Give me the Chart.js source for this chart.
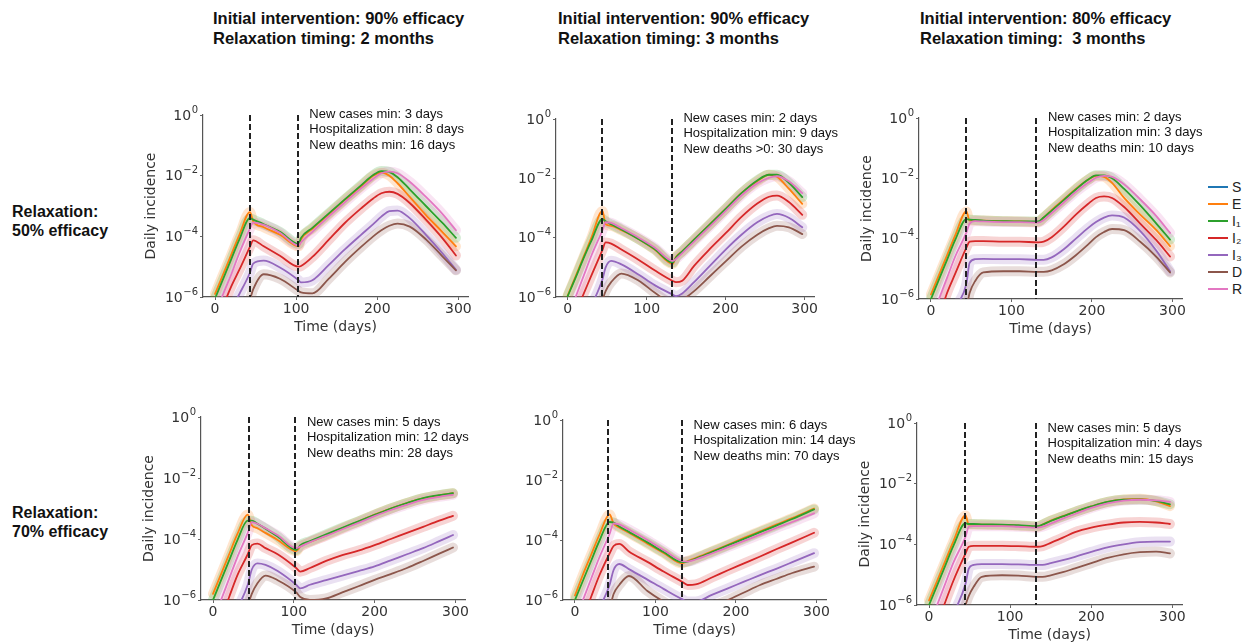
<!DOCTYPE html>
<html>
<head>
<meta charset="utf-8">
<script src="https://cdn.jsdelivr.net/npm/chart.js@4.4.1/dist/chart.umd.min.js"></script>
<style>
  html, body { margin: 0; padding: 0; background: #fff; }
  body { width: 1245px; height: 642px; overflow: hidden; position: relative;
         font-family: "Liberation Sans", Arial, sans-serif; }
  .title { position: absolute; font-weight: bold; font-size: 16.5px; line-height: 20px; white-space: pre; color: #111; }
  .rowlabel { position: absolute; left: 12px; font-weight: bold; font-size: 16px; line-height: 19px; white-space: pre; color: #111; }
  canvas { position: absolute; }
  #legend { position: absolute; left: 1208px; top: 178px; font-size: 14px; color: #222; }
  .leg { height: 17px; display: flex; align-items: center; }
  .leg i { display: inline-block; width: 20px; height: 2px; margin-right: 4px; }
</style>
</head>
<body>
<div class="title" style="left:213px; top:8px">Initial intervention: 90% efficacy
Relaxation timing: 2 months</div>
<div class="title" style="left:558px; top:8px">Initial intervention: 90% efficacy
Relaxation timing: 3 months</div>
<div class="title" style="left:920px; top:8px">Initial intervention: 80% efficacy
Relaxation timing:  3 months</div>
<div class="rowlabel" style="top:202px">Relaxation:
50% efficacy</div>
<div class="rowlabel" style="top:503px">Relaxation:
70% efficacy</div>
<div id="legend"></div>

<script>
// series
const SERIES_KEYS = ["S", "E", "I1", "I2", "I3", "D", "R"];
const SERIES_LABELS = ["S", "E", "I₁", "I₂", "I₃", "D", "R"];
const SERIES_COLORS = ["#1f77b4", "#ff7f0e", "#2ca02c", "#d62728", "#9467bd", "#8c564b", "#e377c2"];

// axes
const X_MIN = -14.85, X_MAX = 311.85;
const X_TICKS = [0, 100, 200, 300];
const Y_TICKS = [1e-6, 1e-4, 1e-2, 1];
const Y_TICK_BASE = "10";
const Y_TICK_EXP = ["−6", "−4", "−2", "0"];

// log10 of daily incidence (S is never visible)
// panel 1: 90% / 2 months, relaxation 50%
const P1_DAYS = [0, 10, 20, 30, 43, 47, 60, 80, 103, 106, 120, 140, 160, 180, 195, 205, 215, 225, 240, 260, 280, 297];
const P1_E  = [-5.9, -5.25, -4.6, -3.95, -3.2, -3.5, -3.7, -3.95, -4.33, -4.1, -3.75, -3.28, -2.8, -2.35, -2.0, -1.9, -2.0, -2.25, -2.7, -3.3, -3.85, -4.33];
const P1_I1 = [-6.05, -5.4, -4.75, -4.1, -3.4, -3.45, -3.6, -3.85, -4.25, -4.05, -3.72, -3.25, -2.78, -2.32, -1.98, -1.85, -1.88, -2.05, -2.45, -3.0, -3.55, -4.05];
const P1_I2 = [-7.0, -6.3, -5.65, -5.1, -4.35, -4.13, -4.33, -4.64, -5.0, -4.98, -4.68, -4.12, -3.56, -3.08, -2.75, -2.58, -2.53, -2.6, -2.9, -3.45, -4.05, -4.63];
const P1_I3 = [-7.6, -7.0, -6.4, -5.9, -5.2, -4.9, -4.8, -5.03, -5.45, -5.52, -5.45, -4.95, -4.43, -3.95, -3.6, -3.35, -3.17, -3.15, -3.4, -3.95, -4.55, -5.1];
const P1_D  = [-9, -8.5, -8, -7.2, -6.1, -5.75, -5.25, -5.4, -5.8, -5.85, -5.88, -5.4, -4.85, -4.35, -4.0, -3.8, -3.65, -3.58, -3.68, -4.1, -4.65, -5.12];
const P1_R  = [-6.6, -5.9, -5.25, -4.55, -3.75, -3.55, -3.62, -3.88, -4.3, -4.2, -3.85, -3.35, -2.88, -2.42, -2.1, -1.92, -1.87, -1.92, -2.2, -2.7, -3.25, -3.8];

// panel 2: 90% / 3 months, relaxation 50%
const P2_DAYS = [0, 10, 20, 30, 44, 48, 55, 68, 90, 110, 133, 137, 145, 160, 180, 200, 220, 240, 255, 265, 280, 297];
const P2_E  = [-5.95, -5.3, -4.65, -4.0, -3.1, -3.55, -3.6, -3.75, -4.05, -4.4, -4.88, -4.65, -4.46, -4.07, -3.55, -3.03, -2.5, -2.1, -1.88, -1.95, -2.35, -2.86];
const P2_I1 = [-5.97, -5.35, -4.7, -4.1, -3.37, -3.45, -3.55, -3.72, -4.05, -4.38, -4.84, -4.67, -4.46, -4.07, -3.55, -3.03, -2.5, -2.07, -1.88, -1.88, -2.15, -2.63];
const P2_I2 = [-7.0, -6.5, -5.9, -5.27, -4.41, -4.16, -4.2, -4.4, -4.75, -5.1, -5.46, -5.5, -5.45, -4.95, -4.38, -3.85, -3.3, -2.85, -2.62, -2.58, -2.8, -3.23];
const P2_I3 = [-8, -7.5, -6.9, -6.3, -5.4, -5.0, -4.78, -4.9, -5.25, -5.6, -5.92, -5.97, -5.88, -5.5, -4.95, -4.4, -3.9, -3.48, -3.27, -3.2, -3.33, -3.65];
const P2_D  = [-9, -8.5, -8, -7.2, -6.1, -5.8, -5.5, -5.21, -5.45, -5.85, -6.2, -6.2, -6.1, -5.8, -5.3, -4.8, -4.3, -3.9, -3.68, -3.6, -3.65, -3.88];
const P2_R  = [-6.7, -6.0, -5.3, -4.6, -3.75, -3.48, -3.5, -3.68, -4.0, -4.33, -4.78, -4.72, -4.52, -4.13, -3.62, -3.1, -2.58, -2.17, -1.98, -1.93, -2.1, -2.5];

// panel 3: 80% / 3 months, relaxation 50%
const P3_DAYS = [0, 10, 20, 30, 44, 48, 55, 65, 90, 110, 133, 140, 150, 165, 180, 195, 205, 215, 225, 240, 260, 280, 297];
const P3_E  = [-5.85, -5.2, -4.55, -3.9, -3.1, -3.4, -3.4, -3.4, -3.42, -3.43, -3.45, -3.3, -3.05, -2.7, -2.35, -2.05, -1.92, -1.95, -2.15, -2.65, -3.2, -3.72, -4.25];
const P3_I1 = [-6.0, -5.35, -4.7, -4.05, -3.35, -3.37, -3.38, -3.4, -3.42, -3.43, -3.43, -3.3, -3.07, -2.72, -2.37, -2.05, -1.9, -1.9, -2.0, -2.35, -2.9, -3.5, -4.03];
const P3_I2 = [-7.2, -6.6, -5.8, -5.17, -4.3, -4.1, -4.08, -4.08, -4.1, -4.1, -4.12, -4.1, -3.95, -3.6, -3.2, -2.85, -2.65, -2.6, -2.65, -2.95, -3.5, -4.05, -4.59];
const P3_I3 = [-8, -7.5, -6.9, -6.3, -5.5, -4.8, -4.68, -4.67, -4.68, -4.68, -4.7, -4.7, -4.62, -4.35, -4.0, -3.65, -3.45, -3.3, -3.23, -3.3, -3.75, -4.4, -5.08];
const P3_D  = [-9, -8.5, -8, -7.3, -6.3, -5.8, -5.4, -5.12, -5.08, -5.08, -5.1, -5.1, -5.05, -4.85, -4.55, -4.2, -3.95, -3.78, -3.68, -3.72, -4.1, -4.6, -5.12];
const P3_R  = [-6.7, -6.0, -5.3, -4.6, -3.8, -3.5, -3.42, -3.43, -3.45, -3.45, -3.47, -3.38, -3.15, -2.8, -2.45, -2.15, -1.98, -1.92, -1.95, -2.2, -2.7, -3.25, -3.81];

// panel 4: 90% / 2 months, relaxation 70%
const P4_DAYS = [0, 10, 20, 30, 43, 48, 55, 65, 80, 103, 108, 120, 140, 160, 180, 200, 220, 240, 260, 280, 297];
const P4_E  = [-5.8, -5.15, -4.5, -3.85, -3.2, -3.55, -3.65, -3.8, -4.03, -4.4, -4.25, -4.1, -3.88, -3.65, -3.43, -3.2, -3.0, -2.82, -2.67, -2.57, -2.5];
const P4_I1 = [-6.0, -5.35, -4.7, -4.05, -3.4, -3.4, -3.5, -3.66, -3.92, -4.36, -4.2, -4.07, -3.85, -3.63, -3.42, -3.21, -3.0, -2.82, -2.66, -2.56, -2.5];
const P4_I2 = [-7.2, -6.6, -5.9, -5.2, -4.5, -4.2, -4.15, -4.3, -4.5, -4.95, -5.07, -4.95, -4.72, -4.53, -4.38, -4.2, -4.0, -3.8, -3.6, -3.4, -3.24];
const P4_I3 = [-8, -7.5, -6.9, -6.3, -5.5, -5.0, -4.8, -4.85, -5.05, -5.5, -5.62, -5.5, -5.35, -5.2, -5.05, -4.9, -4.7, -4.5, -4.3, -4.07, -3.87];
const P4_D  = [-9, -8.5, -8, -7.3, -6.2, -5.8, -5.45, -5.2, -5.35, -5.75, -5.9, -6.0, -5.95, -5.75, -5.55, -5.34, -5.15, -4.95, -4.72, -4.48, -4.28];
const P4_R  = [-6.7, -6.0, -5.3, -4.6, -3.8, -3.45, -3.5, -3.65, -3.88, -4.3, -4.25, -4.1, -3.9, -3.68, -3.47, -3.25, -3.05, -2.88, -2.72, -2.62, -2.55];

// panel 5: 90% / 3 months, relaxation 70%
const P5_DAYS = [0, 10, 20, 30, 43, 48, 55, 67, 90, 110, 133, 140, 150, 170, 190, 210, 230, 250, 270, 297];
const P5_E  = [-5.85, -5.15, -4.5, -3.85, -3.15, -3.45, -3.58, -3.76, -4.12, -4.43, -4.78, -4.7, -4.6, -4.38, -4.16, -3.93, -3.71, -3.49, -3.27, -2.95];
const P5_I1 = [-6.0, -5.35, -4.7, -4.05, -3.4, -3.42, -3.55, -3.73, -4.08, -4.4, -4.74, -4.72, -4.62, -4.4, -4.18, -3.96, -3.74, -3.52, -3.3, -2.98];
const P5_I2 = [-7.2, -6.6, -5.9, -5.2, -4.45, -4.2, -4.13, -4.38, -4.73, -5.05, -5.39, -5.5, -5.48, -5.25, -5.01, -4.78, -4.55, -4.31, -4.08, -3.76];
const P5_I3 = [-8, -7.5, -6.9, -6.3, -5.5, -5.0, -4.8, -4.97, -5.32, -5.63, -5.97, -6.05, -6.05, -5.83, -5.61, -5.39, -5.17, -4.96, -4.74, -4.44];
const P5_D  = [-9, -8.5, -8, -7.3, -6.3, -5.8, -5.5, -5.2, -5.7, -6.05, -6.35, -6.35, -6.35, -6.2, -6.0, -5.75, -5.5, -5.3, -5.1, -4.89];
const P5_R  = [-6.7, -6.0, -5.3, -4.6, -3.8, -3.45, -3.48, -3.65, -4.0, -4.33, -4.7, -4.72, -4.65, -4.45, -4.24, -4.03, -3.82, -3.6, -3.4, -3.11];

// panel 6: 80% / 3 months, relaxation 70%
const P6_DAYS = [0, 10, 20, 30, 45, 49, 55, 65, 90, 110, 134, 140, 150, 165, 180, 200, 220, 240, 260, 280, 297];
const P6_E  = [-5.85, -5.2, -4.55, -3.9, -3.05, -3.35, -3.35, -3.35, -3.36, -3.38, -3.42, -3.35, -3.22, -3.07, -2.93, -2.75, -2.6, -2.52, -2.5, -2.58, -2.74];
const P6_I1 = [-6.0, -5.35, -4.7, -4.05, -3.3, -3.33, -3.33, -3.34, -3.35, -3.37, -3.4, -3.35, -3.23, -3.08, -2.93, -2.75, -2.6, -2.53, -2.52, -2.57, -2.68];
const P6_I2 = [-7.2, -6.6, -5.9, -5.2, -4.3, -4.08, -4.05, -4.05, -4.05, -4.06, -4.08, -4.06, -3.95, -3.78, -3.6, -3.45, -3.35, -3.28, -3.26, -3.28, -3.33];
const P6_I3 = [-8, -7.5, -6.9, -6.3, -5.3, -4.8, -4.68, -4.65, -4.65, -4.66, -4.68, -4.68, -4.62, -4.52, -4.41, -4.25, -4.1, -4.0, -3.93, -3.91, -3.91];
const P6_D  = [-9, -8.5, -8, -7.3, -6.0, -5.7, -5.4, -5.07, -5.02, -5.03, -5.07, -5.07, -5.02, -4.92, -4.79, -4.62, -4.45, -4.33, -4.26, -4.24, -4.3];
const P6_R  = [-6.7, -6.0, -5.3, -4.6, -3.75, -3.42, -3.4, -3.4, -3.4, -3.42, -3.45, -3.42, -3.32, -3.15, -3.0, -2.8, -2.65, -2.56, -2.53, -2.55, -2.6];

// intervention and relaxation days (dashed lines)
const EVENT_DAYS = [[43, 102], [43, 132], [43, 131], [45, 102], [41, 133], [44, 132]];

// text boxes
const NOTES = [
  ["New cases min: 3 days", "Hospitalization min: 8 days", "New deaths min: 16 days"],
  ["New cases min: 2 days", "Hospitalization min: 9 days", "New deaths >0: 30 days"],
  ["New cases min: 2 days", "Hospitalization min: 3 days", "New deaths min: 10 days"],
  ["New cases min: 5 days", "Hospitalization min: 12 days", "New deaths min: 28 days"],
  ["New cases min: 6 days", "Hospitalization min: 14 days", "New deaths min: 70 days"],
  ["New cases min: 5 days", "Hospitalization min: 4 days", "New deaths min: 15 days"],
];

const PANEL_DAYS = [P1_DAYS, P2_DAYS, P3_DAYS, P4_DAYS, P5_DAYS, P6_DAYS];
const PANEL_SERIES = [
  { S: [], E: P1_E, I1: P1_I1, I2: P1_I2, I3: P1_I3, D: P1_D, R: P1_R },
  { S: [], E: P2_E, I1: P2_I1, I2: P2_I2, I3: P2_I3, D: P2_D, R: P2_R },
  { S: [], E: P3_E, I1: P3_I1, I2: P3_I2, I3: P3_I3, D: P3_D, R: P3_R },
  { S: [], E: P4_E, I1: P4_I1, I2: P4_I2, I3: P4_I3, D: P4_D, R: P4_R },
  { S: [], E: P5_E, I1: P5_I1, I2: P5_I2, I3: P5_I3, D: P5_D, R: P5_R },
  { S: [], E: P6_E, I1: P6_I1, I2: P6_I2, I3: P6_I3, D: P6_D, R: P6_R },
];

// layout: plot area of each panel [left, top, right, bottom] in page px
const AREAS = [
  [203, 115, 468, 297], [556, 119, 814, 297], [919, 118, 1182, 299],
  [201, 417, 465, 600], [563, 420, 826, 600], [917, 423, 1182, 605],
];
const SHOW_YTITLE = [true, false, true, true, false, true];
const SHOW_XTITLE = [true, false, true, true, true, true];
const Y_W = 62, X_H = 40, PAD_T = 12, PAD_R = 45;
const FONT_FAMILY = "'DejaVu Sans', sans-serif";
const AXIS_FONT = { family: FONT_FAMILY, size: 14 };
const TEXT_COLOR = "#333";

function withAlpha(hex, a) {
  const n = parseInt(hex.slice(1), 16);
  return `rgba(${(n >> 16) & 255}, ${(n >> 8) & 255}, ${n & 255}, ${a})`;
}

// legend
const legend = document.getElementById("legend");
SERIES_KEYS.forEach((k, i) => {
  const row = document.createElement("div");
  row.className = "leg";
  row.innerHTML = `<i style="background:${SERIES_COLORS[i]}"></i><span>${SERIES_LABELS[i]}</span>`;
  legend.appendChild(row);
});

function markersPlugin(p) {
  return {
    id: "markers" + p,
    afterDatasetsDraw(chart) {
      const { ctx, chartArea, scales } = chart;
      ctx.save();
      // dashed lines at intervention / relaxation
      ctx.strokeStyle = "#222";
      ctx.lineWidth = 2;
      ctx.setLineDash([6, 3]);
      EVENT_DAYS[p].forEach((d) => {
        const x = Math.round(scales.x.getPixelForValue(d));
        ctx.beginPath();
        ctx.moveTo(x, chartArea.top);
        ctx.lineTo(x, chartArea.bottom);
        ctx.stroke();
      });
      ctx.setLineDash([]);
      // notes
      ctx.fillStyle = "#111";
      ctx.font = "13px 'Liberation Sans', Arial, sans-serif";
      ctx.textBaseline = "middle";
      ctx.textAlign = "left";
      const x0 = scales.x.getPixelForValue(EVENT_DAYS[p][1]) + 11.5;
      const y0 = chartArea.top + (p < 3 ? -1 : 5);
      NOTES[p].forEach((t, i) => ctx.fillText(t, x0, y0 + i * 15.5));
      // y tick labels as 10 with a raised exponent
      ctx.fillStyle = TEXT_COLOR;
      const xr = chartArea.left - 5;
      Y_TICKS.forEach((v, i) => {
        const y = scales.y.getPixelForValue(v);
        ctx.font = `10px ${FONT_FAMILY}`;
        const we = ctx.measureText(Y_TICK_EXP[i]).width;
        ctx.fillText(Y_TICK_EXP[i], xr - we, y - 5);
        ctx.font = `14px ${FONT_FAMILY}`;
        const wb = ctx.measureText(Y_TICK_BASE).width;
        ctx.fillText(Y_TICK_BASE, xr - we - wb - 0.5, y + 1);
      });
      ctx.restore();
    },
  };
}

AREAS.forEach((a, p) => {
  const [L, T, R, B] = a;
  const w = R - L + Y_W + PAD_R;
  const h = B - T + PAD_T + X_H;
  const cv = document.createElement("canvas");
  cv.width = w;
  cv.height = h;
  cv.style.left = L - Y_W + "px";
  cv.style.top = T - PAD_T + "px";
  cv.style.width = w + "px";
  cv.style.height = h + "px";
  document.body.appendChild(cv);

  const datasets = [];
  SERIES_KEYS.forEach((k, i) => {
    const pts = PANEL_SERIES[p][k].map((v, j) => ({ x: PANEL_DAYS[p][j], y: Math.pow(10, v) }));
    const common = { data: pts, pointRadius: 0, cubicInterpolationMode: "monotone", clip: 0, borderJoinStyle: "round", borderCapStyle: "round" };
    // shaded spread around each mean curve
    datasets.push({ ...common, label: k + " band", borderColor: withAlpha(SERIES_COLORS[i], 0.2), borderWidth: 10, order: 20 - i });
    datasets.push({ ...common, label: SERIES_LABELS[i], borderColor: SERIES_COLORS[i], borderWidth: 1.8, order: 10 - i });
  });

  new Chart(cv, {
    type: "line",
    data: { datasets },
    plugins: [markersPlugin(p)],
    options: {
      responsive: false,
      animation: false,
      events: [],
      layout: { padding: { top: PAD_T, right: PAD_R, left: 0, bottom: 0 } },
      plugins: { legend: { display: false }, tooltip: { enabled: false } },
      scales: {
        x: {
          type: "linear",
          min: X_MIN,
          max: X_MAX,
          afterBuildTicks: (s) => { s.ticks = X_TICKS.map((v) => ({ value: v })); },
          afterFit: (s) => { s.height = X_H; },
          grid: { display: true, drawOnChartArea: false, drawTicks: true, tickLength: 3, color: "#666" },
          border: { display: true, color: "#555", width: 1.2 },
          ticks: { font: AXIS_FONT, color: TEXT_COLOR, padding: 1, maxRotation: 0, autoSkip: false },
          title: { display: SHOW_XTITLE[p], text: "Time (days)", font: AXIS_FONT, color: TEXT_COLOR, padding: { top: 0, bottom: 1.6 } },
        },
        y: {
          type: "logarithmic",
          min: 1e-6,
          max: 1,
          afterBuildTicks: (s) => { s.ticks = Y_TICKS.map((v) => ({ value: v })); },
          afterFit: (s) => { s.width = Y_W; },
          grid: { display: true, drawOnChartArea: false, drawTicks: true, tickLength: 3, color: "#666" },
          border: { display: true, color: "#555", width: 1.2 },
          ticks: { display: false },
          title: { display: SHOW_YTITLE[p], text: "Daily incidence", font: AXIS_FONT, color: TEXT_COLOR, padding: { top: 2, bottom: 0 } },
        },
      },
    },
  });
});
</script>
</body>
</html>
